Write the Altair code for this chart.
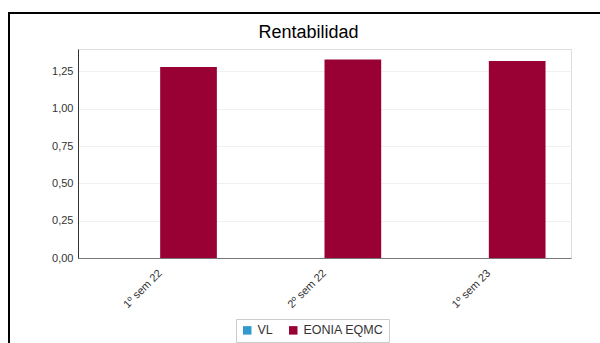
import altair as alt
import pandas as pd

categories = ["1º sem 22", "2º sem 22", "1º sem 23"]
series = ["VL", "EONIA EQMC"]
vl_values = [None, None, None]
eonia_values = [1.28, 1.33, 1.32]
y_ticks = [0, 0.25, 0.5, 0.75, 1.0, 1.25]

rows = []
for c, v in zip(categories, vl_values):
    rows.append({"periodo": c, "serie": "VL", "valor": v})
for c, v in zip(categories, eonia_values):
    rows.append({"periodo": c, "serie": "EONIA EQMC", "valor": v})
df = pd.DataFrame(rows)

FONT = "Liberation Sans"

bars = alt.Chart(df).mark_bar().encode(
    x=alt.X("periodo:N", sort=categories, title=None,
            scale=alt.Scale(paddingInner=0.31, paddingOuter=0.155),
            axis=alt.Axis(labelAngle=-45, labelFontSize=11, labelColor="#333",
                          labelFont=FONT, ticks=False, domainColor="#777",
                          labelPadding=9, labelOffset=-4)),
    xOffset=alt.XOffset("serie:N", sort=series, scale=alt.Scale(domain=series, paddingInner=0)),
    y=alt.Y("valor:Q", title=None,
            scale=alt.Scale(domain=[0, 1.4], nice=False, zero=True),
            axis=alt.Axis(values=y_ticks, labelExpr="replace(format(datum.value, '.2f'), '.', ',')",
                          labelFontSize=11, labelColor="#333", labelFont=FONT, ticks=False,
                          domainColor="#333", gridColor="#f0f0f0", labelPadding=5)),
    color=alt.Color("serie:N", sort=series,
                    scale=alt.Scale(domain=series, range=["#3399CC", "#990033"]),
                    legend=alt.Legend(title=None, orient="none", direction="horizontal",
                                      legendX=158, legendY=270, symbolType="square",
                                      symbolSize=72, symbolStrokeWidth=0,
                                      labelFontSize=12.5, labelFont=FONT, labelColor="#333",
                                      strokeColor="#ccc", padding=5, columnPadding=14)),
)

frame = alt.Chart(pd.DataFrame({"a": [0]})).mark_rect(
    fill=None, stroke="#000", strokeWidth=2
).encode(
    x=alt.value(-69), x2=alt.value(540), y=alt.value(-36), y2=alt.value(310)
)

chart = alt.layer(frame, bars).properties(
    width=493, height=209,
    title=alt.Title("Rentabilidad", fontSize=18, font=FONT, fontWeight="normal",
                    color="#000", offset=7, dx=-16, dy=37),
    autosize=alt.AutoSizeParams(type="none"),
    padding={"left": 78, "top": 49, "right": 29, "bottom": 85},
).configure_view(stroke="#999").configure(background="white")

chart.save("out.html", embed_options={"renderer": "svg", "actions": False})
